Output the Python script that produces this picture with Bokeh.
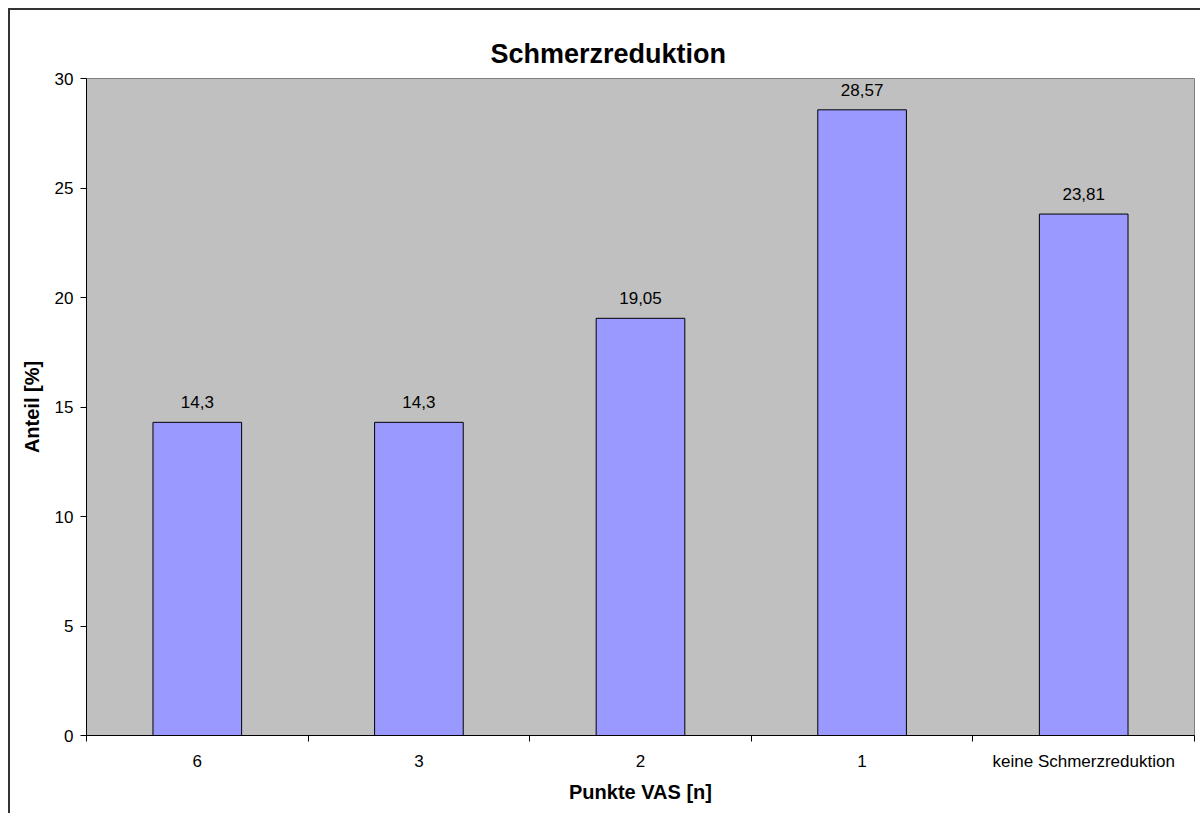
from bokeh.plotting import figure
from bokeh.models import ColumnDataSource, LabelSet, FixedTicker, Range1d
from bokeh.core.properties import value
from bokeh.embed import file_html
from bokeh.resources import INLINE

categories = ["6", "3", "2", "1", "keine Schmerzreduktion"]
values = [14.3, 14.3, 19.05, 28.57, 23.81]
value_labels = ["14,3", "14,3", "19,05", "28,57", "23,81"]
y_ticks = [0, 5, 10, 15, 20, 25, 30]

FONT = "Liberation Sans"

xpos = [i + 0.5 for i in range(len(categories))]
src = ColumnDataSource(dict(x=xpos, top=values, lab=value_labels, cat=categories))

p = figure(width=1192, height=805, output_backend="svg", toolbar_location=None,
           x_range=Range1d(0, len(categories)), y_range=Range1d(0, 30),
           min_border_left=76, min_border_right=8, min_border_top=68, min_border_bottom=80)
p.styles = {"border-top": "2px solid #333333", "border-left": "2px solid #333333",
            "margin-left": "8px", "margin-top": "8px"}

p.background_fill_color = "#C0C0C0"
p.border_fill_color = "white"
p.outline_line_color = "#808080"
p.outline_line_width = 1
p.grid.visible = False

p.vbar(x="x", top="top", bottom=0, width=0.4, source=src,
       fill_color="#9999FF", line_color="black", line_width=1)

labels = LabelSet(x="x", y="top", text="lab", source=src, y_offset=14,
                  text_align="center", text_baseline="bottom",
                  text_font=value(FONT), text_font_size="17px", text_color="black")
p.add_layout(labels)

# title
p.title.text = "Schmerzreduktion"
p.title.align = "left"
p.title.offset = 404
p.title.standoff = 20
p.title.text_font = FONT
p.title.text_font_size = "27px"
p.title.text_font_style = "bold"
p.title.text_color = "black"

# x axis
xa = p.xaxis[0]
xa.ticker = FixedTicker(ticks=xpos, minor_ticks=list(range(len(categories) + 1)))
xa.major_label_overrides = {x: c for x, c in zip(xpos, categories)}
xa.major_tick_out = 0
xa.major_tick_in = 0
xa.minor_tick_out = 6
xa.minor_tick_in = 0
xa.minor_tick_line_color = "black"
xa.axis_line_color = "black"
xa.major_label_text_font = FONT
xa.major_label_text_font_size = "17px"
xa.major_label_text_color = "black"
xa.major_label_standoff = 10
xa.axis_label = "Punkte VAS [n]"
xa.axis_label_text_font = FONT
xa.axis_label_text_font_size = "20px"
xa.axis_label_text_font_style = "bold"
xa.axis_label_text_color = "black"
xa.axis_label_standoff = 7

# y axis
ya = p.yaxis[0]
ya.ticker = FixedTicker(ticks=y_ticks, minor_ticks=[])
ya.major_tick_out = 6
ya.major_tick_in = 0
ya.major_tick_line_color = "black"
ya.axis_line_color = "black"
ya.major_label_text_font = FONT
ya.major_label_text_font_size = "17px"
ya.major_label_text_color = "black"
ya.major_label_standoff = 7
ya.axis_label = "Anteil [%]"
ya.axis_label_text_font = FONT
ya.axis_label_text_font_size = "20px"
ya.axis_label_text_font_style = "bold"
ya.axis_label_text_color = "black"
ya.axis_label_standoff = 9

open("out.html", "w").write(file_html(p, INLINE))
